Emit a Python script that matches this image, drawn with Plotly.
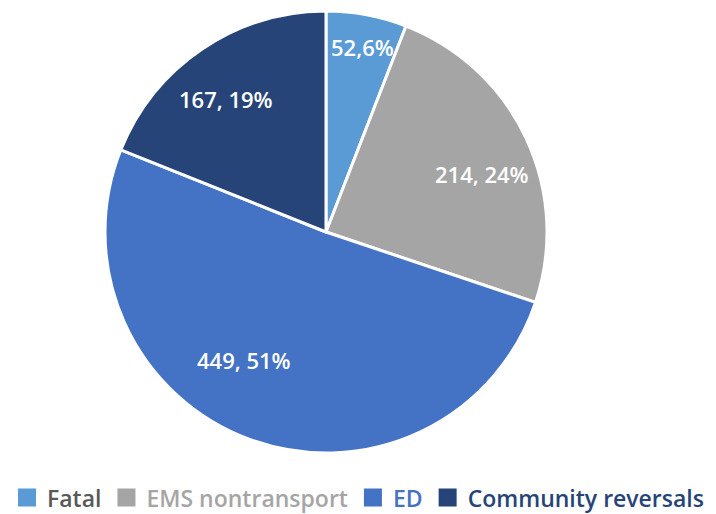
import math
import plotly.graph_objects as go

categories = ["Fatal", "EMS nontransport", "ED", "Community reversals"]
values = [52, 214, 449, 167]
slice_colors = ["#5B9BD5", "#A5A5A5", "#4472C4", "#264478"]
legend_text_colors = ["#595959", "#A5A5A5", "#4472C4", "#264478"]
label_separators = [",", ", ", ", ", ", "]

# style: label placement (fraction of radius, angular nudge in degrees)
label_radius_frac = [0.857, 0.757, 0.694, 0.759]
label_angle_nudge = [0.4, 4.8, 12.5, -2.9]

W, H = 716, 514
CX, CY, RAD = 326, 232, 221
dom_x = [(CX - RAD) / W, (CX + RAD) / W]
dom_y = [(H - CY - RAD) / H, (H - CY + RAD) / H]

fig = go.Figure()
fig.add_trace(go.Pie(
    labels=categories,
    values=values,
    sort=False,
    direction="clockwise",
    rotation=0,
    marker=dict(colors=slice_colors, line=dict(color="white", width=3)),
    textinfo="none",
    domain=dict(x=dom_x, y=dom_y),
    hoverinfo="skip",
    showlegend=False,
))

# legend entries via dummy square markers
for name, sc, tc in zip(categories, slice_colors, legend_text_colors):
    fig.add_trace(go.Scatter(
        x=[None], y=[None], mode="markers",
        marker=dict(symbol="square", size=16, color=sc, line=dict(color=sc, width=2)),
        name=f"<span style='color:{tc}'>{name}</span>",
        showlegend=True,
    ))

# slice labels
total = sum(values)
cx = (dom_x[0] + dom_x[1]) / 2 * W
cy = (1 - (dom_y[0] + dom_y[1]) / 2) * H
R = 220
cum = 0
annotations = []
for v, sep, rf, nudge in zip(values, label_separators, label_radius_frac, label_angle_nudge):
    mid = (cum + v / 2) / total * 360 + nudge
    cum += v
    a = math.radians(mid)
    px = cx + rf * R * math.sin(a)
    py = cy - rf * R * math.cos(a)
    pct = round(v / total * 100)
    annotations.append(dict(
        x=px / W, y=1 - py / H, xref="paper", yref="paper",
        text=f"{v}{sep}{pct}%", showarrow=False,
        xanchor="center", yanchor="middle",
        font=dict(family="Open Sans", size=22, color="white", weight=600),
    ))

fig.update_layout(
    width=W, height=H,
    margin=dict(l=0, r=0, t=0, b=0, autoexpand=False),
    paper_bgcolor="white",
    plot_bgcolor="white",
    xaxis=dict(visible=False),
    yaxis=dict(visible=False),
    showlegend=True,
    legend=dict(orientation="h", x=0.5, xanchor="center", y=-0.01, yanchor="bottom",
                font=dict(family="Open Sans", size=23, weight=600), itemwidth=30,
                itemsizing="trace", tracegroupgap=0),
    font=dict(family="Open Sans"),
    annotations=annotations,
)

fig.write_html("out.html")
